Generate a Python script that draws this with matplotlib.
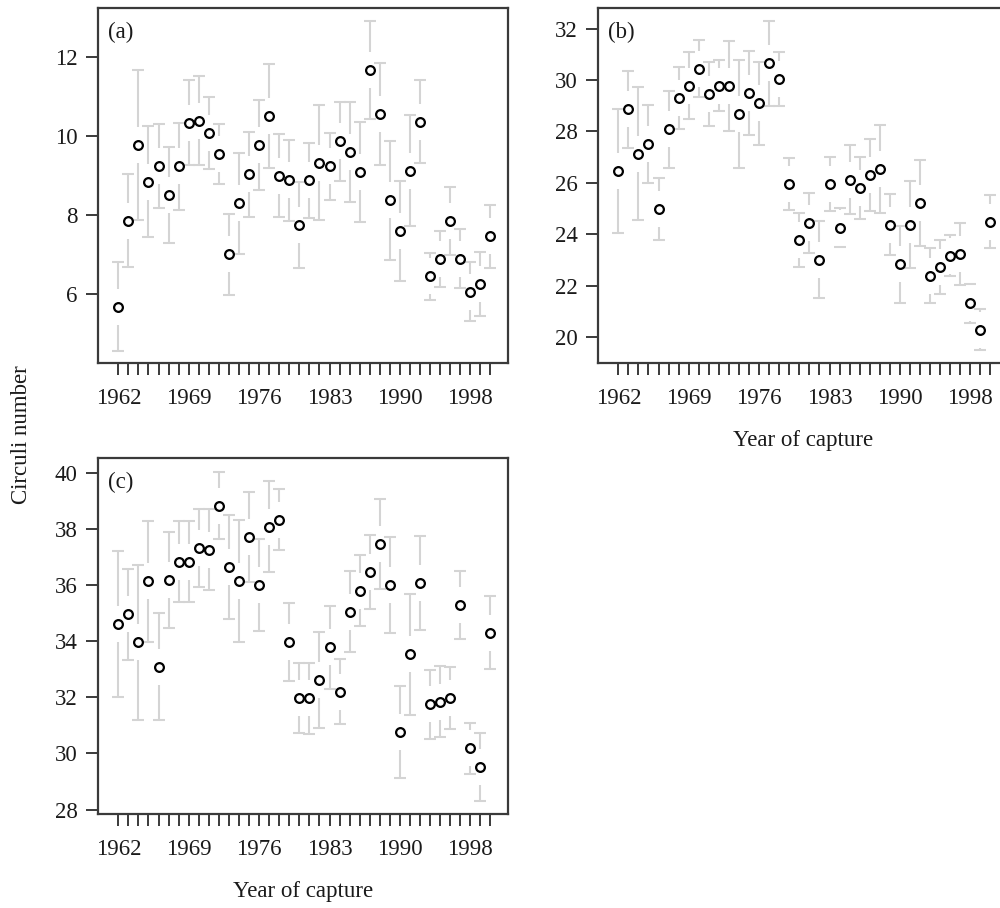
import numpy as np
import matplotlib
matplotlib.use("Agg")
import matplotlib.pyplot as plt

plt.rcParams['font.family'] = ['Liberation Serif', 'DejaVu Serif']

# ---- data -------------------------------------------------------------
years = list(range(1962, 2000))
tick_labels = ['1962', '1969', '1976', '1983', '1990', '1998']
tick_index = [0, 7, 14, 21, 28, 35]

a_mean = [5.69, 7.86, 9.77, 8.85, 9.24, 8.51, 9.24, 10.34, 10.39, 10.08,
          9.55, 7.01, 8.30, 9.03, 9.77, 10.50, 9.00, 8.88, 7.75, 8.88,
          9.33, 9.23, 9.87, 9.60, 9.09, 11.67, 10.55, 8.38, 7.60, 9.12,
          10.36, 6.46, 6.90, 7.85, 6.90, 6.07, 6.26, 7.47]
a_err = [1.12, 1.17, 1.90, 1.41, 1.06, 1.22, 1.10, 1.07, 1.13, 0.91,
         0.75, 1.02, 1.28, 1.08, 1.14, 1.32, 1.05, 1.02, 1.08, 0.95,
         1.45, 0.85, 1.00, 1.27, 1.27, 1.24, 1.29, 1.50, 1.27, 1.40,
         1.05, 0.59, 0.71, 0.85, 0.74, 0.75, 0.80, 0.79]

b_mean = [26.47, 28.86, 27.14, 27.51, 24.99, 28.09, 29.31, 29.78, 30.44, 29.45,
          29.78, 29.78, 28.68, 29.48, 29.09, 30.65, 30.03, 25.95, 23.79, 24.44,
          23.01, 25.95, 24.25, 26.13, 25.80, 26.31, 26.53, 24.38, 22.83, 24.38,
          25.22, 22.40, 22.73, 23.17, 23.25, 21.32, 20.29, 24.50]
b_err = [2.40, 1.50, 2.60, 1.50, 1.20, 1.50, 1.20, 1.30, 1.10, 1.25,
         1.00, 1.75, 2.10, 1.63, 1.60, 1.66, 1.05, 1.02, 1.04, 1.18,
         1.50, 1.06, 0.76, 1.35, 1.22, 1.41, 1.71, 1.19, 1.48, 1.69,
         1.68, 1.06, 1.06, 0.80, 1.20, 0.77, 0.80, 1.02]

c_mean = [34.61, 34.95, 33.95, 36.13, 33.09, 36.18, 36.83, 36.83, 37.31, 37.25,
          38.82, 36.65, 36.15, 37.70, 36.00, 38.08, 38.32, 33.98, 31.96, 31.96,
          32.61, 33.78, 32.20, 35.05, 35.80, 36.46, 37.45, 36.00, 30.77, 33.53,
          36.08, 31.75, 31.84, 31.98, 35.29, 30.18, 29.52, 34.30]
c_err = [2.60, 1.63, 2.75, 2.15, 1.90, 1.70, 1.45, 1.43, 1.38, 1.44,
         1.20, 1.85, 2.17, 1.60, 1.63, 1.62, 1.08, 1.39, 1.25, 1.27,
         1.70, 1.47, 1.15, 1.44, 1.25, 1.33, 1.60, 1.71, 1.63, 2.15,
         1.67, 1.23, 1.26, 1.10, 1.22, 0.90, 1.20, 1.30]

# ---- styling ----------------------------------------------------------
FS = 16.5
SPINE = '#3a3a3a'
TXT = '#1a1a1a'
ERRC = '#d4d4d4'
GAP_PX = 18.0

W, H = 1000, 908
fig = plt.figure(figsize=(W / 100, H / 100), dpi=100)


def px_axes(left, top, width, height):
    return fig.add_axes([left / W, 1 - (top + height) / H, width / W, height / H])


def panel(ax, mean, err, ylim, yticks, label):
    x = np.arange(len(years))
    mean = np.asarray(mean)
    err = np.asarray(err)
    ax.set_xlim(-2.02, 38.74)
    ax.set_ylim(*ylim)
    # gap around each point in data units
    hpx = ax.get_window_extent().height
    gap = GAP_PX * (ylim[1] - ylim[0]) / hpx
    up = mean + err
    lo = mean - err
    top_start = mean + gap
    bot_end = mean - gap
    m_up = up > top_start
    m_lo = lo < bot_end
    ax.vlines(x[m_up], top_start[m_up], up[m_up], color=ERRC, lw=1.5, zorder=1)
    ax.vlines(x[m_lo], lo[m_lo], bot_end[m_lo], color=ERRC, lw=1.5, zorder=1)
    ax.plot(x, up, ls='none', marker='_', ms=9, mew=1.5, color=ERRC, zorder=1)
    ax.plot(x, lo, ls='none', marker='_', ms=9, mew=1.5, color=ERRC, zorder=1)
    ax.plot(x, mean, ls='none', marker='o', ms=6.3, mew=1.6, mfc='none',
            mec='black', zorder=3, clip_on=False)

    ax.set_xticks(x)
    labels = [''] * len(years)
    for i, t in zip(tick_index, tick_labels):
        labels[i] = t
    ax.set_xticklabels(labels)
    ax.set_yticks(yticks)
    ax.tick_params(axis='both', direction='out', length=8.5, width=1.4,
                   color=SPINE, labelsize=FS, labelcolor=TXT)
    ax.tick_params(axis='x', pad=9.5)
    ax.tick_params(axis='y', pad=6)
    for s in ax.spines.values():
        s.set_color(SPINE)
        s.set_linewidth(1.6)
    ax.text(0.025, 0.962, label, transform=ax.transAxes, ha='left', va='top',
            fontsize=FS, color=TXT)


ax_a = px_axes(98, 8, 410, 355)
ax_b = px_axes(598, 8, 410, 355)
ax_c = px_axes(98, 458, 410, 356)

panel(ax_a, a_mean, a_err, (4.27, 13.23), [6, 8, 10, 12], '(a)')
panel(ax_b, b_mean, b_err, (19.0, 32.8), [20, 22, 24, 26, 28, 30, 32], '(b)')
panel(ax_c, c_mean, c_err, (27.84, 40.52), [28, 30, 32, 34, 36, 38, 40], '(c)')

ax_b.set_xlabel('Year of capture', fontsize=FS, color=TXT, labelpad=15)
ax_c.set_xlabel('Year of capture', fontsize=FS, color=TXT, labelpad=15)
fig.text(22 / W, 1 - 435 / H, 'Circuli number', rotation=90, ha='center',
         va='center', fontsize=FS, color=TXT)

fig.savefig('out.png', dpi=100)
